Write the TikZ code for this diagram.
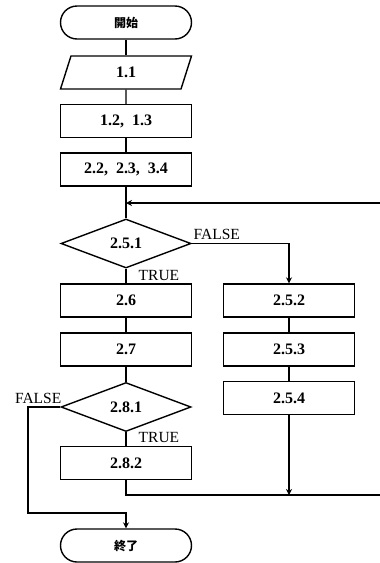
\documentclass[tikz,border=0pt]{standalone}
\usepackage{fontspec}
\setmainfont{Liberation Serif}
\newfontfamily\jpfont{Noto Sans CJK JP}
\usetikzlibrary{arrows.meta,shapes.geometric}

\begin{document}
\begin{tikzpicture}[x=1pt, y=-1pt, line width=1.4pt,
    every node/.style={font=\fontsize{16}{18}\selectfont\bfseries},
    term/.style={draw, rectangle, rounded corners=16.5pt, minimum width=131pt, minimum height=33pt, font=\fontsize{12}{14}\selectfont\jpfont\bfseries},
    io/.style={draw, trapezium, trapezium left angle=59, trapezium right angle=121, trapezium stretches body, minimum width=131pt, minimum height=33pt, inner xsep=0pt},
    proc/.style={draw, rectangle, minimum width=131pt, minimum height=33pt},
    cond/.style={draw, diamond, inner sep=0pt, minimum width=130pt, minimum height=49pt},
    lab/.style={inner sep=0pt, font=\fontsize{15.5}{18}\selectfont\mdseries},
    arr/.style={-{Stealth[length=6pt, width=6pt]}}]
  \useasboundingbox (0,0) rectangle (380,563);
  % main column
  \node[term] (start) at (126,22.5) {開始};
  \node[io]   (in11)  at (126,72.5) {1.1};
  \node[proc] (b12)   at (126,121) {1.2,\ \ 1.3};
  \node[proc] (b22)   at (126,169.5) {2.2,\ \ 2.3,\ \ 3.4};
  \coordinate (merge) at (126,203);
  \node[cond] (d251)  at (126,243.5) {2.5.1};
  \node[proc] (b26)   at (126,300.5) {2.6};
  \node[proc] (b27)   at (126,349.5) {2.7};
  \node[cond] (d281)  at (126,407) {2.8.1};
  \node[proc] (b282)  at (126,463) {2.8.2};
  \coordinate (join) at (126,495);
  \node[term] (stop)  at (126,545.5) {終了};
  % right column
  \node[proc] (b252)  at (289,300.5) {2.5.2};
  \node[proc] (b253)  at (289,349.5) {2.5.3};
  \node[proc] (b254)  at (289,398) {2.5.4};
  \coordinate (join2) at (289,495);
  % loop ends at the right edge
  \coordinate (backR) at (380,203);
  \coordinate (joinR) at (380,495);
  \coordinate (bendL) at (28,513);
  % connectors
  \draw (start) -- (in11);
  \draw (in11) -- (b12);
  \draw (b12) -- (b22);
  \draw (b22) -- (d251);
  \draw[arr] (backR) -- (merge);
  \draw (d251) -- (b26);
  \draw (b26) -- (b27);
  \draw (b27) -- (d281);
  \draw (d281) -- (b282);
  \draw[arr] (d251.east) -| (b252.north);
  \draw (b252) -- (b253);
  \draw (b253) -- (b254);
  \draw[arr] (b254) -- (join2);
  \draw (b282.south) -- (join) -- (joinR);
  \draw[arr] (d281.west) -| (bendL) -| (stop.north);
  % branch labels
  \node[lab, anchor=base west] (f1) at (193,239.5) {FALSE};
  \node[lab, anchor=base west] (t1) at (138,280) {TRUE};
  \node[lab, anchor=base east] (f2) at (62,403.5) {FALSE};
  \node[lab, anchor=base west] (t2) at (138,442) {TRUE};
\end{tikzpicture}
\end{document}
